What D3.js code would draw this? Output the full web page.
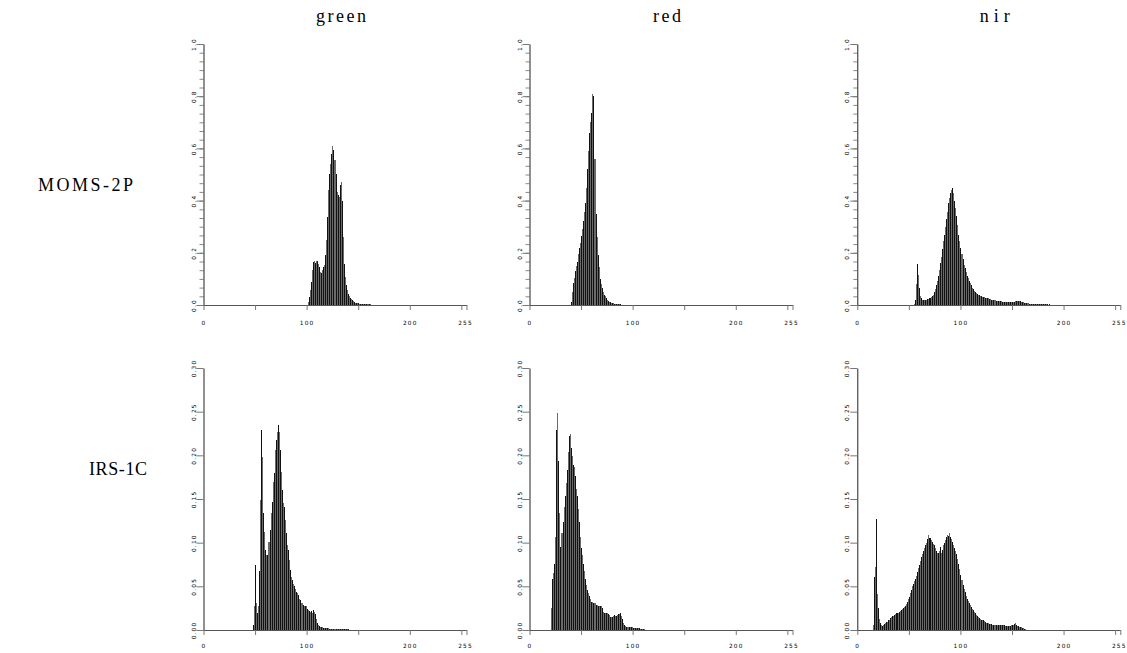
<!DOCTYPE html>
<html><head><meta charset="utf-8">
<script src="https://cdn.jsdelivr.net/npm/d3@7"></script>
<style>body{margin:0;background:#fff}svg{display:block}</style>
</head><body>
<svg id="c" width="1127" height="653"></svg>
<script>
// ---- categories / labels ----
const bandNames = ["green", "red", "nir"];
const sensorNames = ["MOMS-2P", "IRS-1C"];
const xTicks = [0, 50, 100, 150, 200, 250, 255];
const xTickLabels = ["0", "", "100", "", "200", "", "255"];
const topYTicks = [0, 0.2, 0.4, 0.6, 0.8, 1.0];
const topYTickLabels = ["0.0", "0.2", "0.4", "0.6", "0.8", "1.0"];
const topYMinorTicks = d3.range(0, 31).map(i => i / 30);
const bottomYTicks = [0, 0.05, 0.10, 0.15, 0.20, 0.25, 0.30];
const bottomYTickLabels = ["0.00", "0.05", "0.10", "0.15", "0.20", "0.25", "0.30"];

// ---- series: histogram frequencies, first grey level given by *Start ----
const momsGreenStart = 101;
const momsGreen = [0.011,0.03,0.056,0.088,0.133,0.165,0.167,0.162,0.167,0.168,
  0.158,0.145,0.126,0.122,0.133,0.146,0.152,0.19,0.248,0.337,
  0.44,0.503,0.54,0.58,0.608,0.593,0.554,0.503,0.433,0.42,
  0.414,0.458,0.471,0.40,0.26,0.158,0.107,0.075,0.056,0.043,
  0.034,0.027,0.022,0.018,0.014,0.011,0.009,0.008,0.007,0.006,
  0.005,0.005,0.004,0.004,0.003,0.003,0.003,0.002,0.002,0.002,0.002,0.001,0.001,0.001,0.001];

const momsRedStart = 40;
const momsRed = [0.013,0.05,0.085,0.105,0.13,0.15,0.165,0.195,0.22,0.236,
  0.265,0.29,0.32,0.355,0.39,0.45,0.52,0.59,0.66,0.70,
  0.735,0.81,0.80,0.56,0.35,0.26,0.19,0.145,0.10,0.08,
  0.064,0.051,0.04,0.033,0.027,0.021,0.016,0.013,0.011,0.009,
  0.007,0.006,0.005,0.004,0.004,0.003,0.003,0.002,0.002,0.001,0.001];

const momsNirStart = 55;
const momsNir = [0.005,0.02,0.08,0.157,0.115,0.065,0.035,0.025,0.021,0.02,
  0.02,0.02,0.021,0.022,0.024,0.026,0.029,0.033,0.04,0.05,
  0.06,0.075,0.092,0.112,0.134,0.16,0.185,0.215,0.245,0.27,
  0.3,0.33,0.357,0.39,0.41,0.428,0.44,0.447,0.43,0.40,
  0.37,0.34,0.305,0.27,0.245,0.22,0.195,0.175,0.155,0.14,
  0.125,0.112,0.102,0.092,0.083,0.075,0.067,0.06,0.055,0.049,
  0.045,0.042,0.039,0.037,0.035,0.033,0.032,0.031,0.029,0.028,
  0.027,0.026,0.025,0.024,0.022,0.021,0.02,0.019,0.018,0.017,
  0.016,0.016,0.015,0.014,0.014,0.013,0.012,0.012,0.012,0.011,
  0.011,0.011,0.012,0.012,0.012,0.013,0.013,0.013,0.014,0.014,
  0.014,0.015,0.014,0.014,0.013,0.012,0.011,0.009,0.008,0.007,
  0.006,0.005,0.005,0.004,0.004,0.004,0.003,0.003,0.003,0.003,
  0.003,0.003,0.002,0.002,0.002,0.002,0.002,0.002,0.002,0.002,
  0.001,0.002,0.001,0.001,0.001,0.001,0.001,0.001,0.001,0.001];

const irsGreenStart = 48;
const irsGreen = [0.006,0.028,0.0745,0.031,0.02,0.027,0.067,0.149,0.229,0.198,
  0.134,0.112,0.092,0.086,0.086,0.101,0.115,0.134,0.147,0.17,
  0.18,0.206,0.218,0.227,0.235,0.227,0.206,0.181,0.16,0.145,
  0.141,0.126,0.111,0.097,0.092,0.08,0.069,0.061,0.057,0.053,
  0.05,0.047,0.044,0.042,0.04,0.036,0.034,0.031,0.029,0.028,
  0.028,0.027,0.024,0.023,0.022,0.021,0.022,0.02,0.023,0.021,
  0.018,0.013,0.0085,0.0057,0.0046,0.004,0.0035,0.003,0.0028,0.0025,
  0.0023,0.002,0.002,0.0018,0.0016,0.0015,0.0014,0.0013,0.0012,0.0012,
  0.0011,0.001,0.001,0.0009,0.0009,0.0008,0.0008,0.0008,0.0007,0.0007,
  0.0006,0.0006,0.0006,0.0005,0.0005,0.0005,0.0004,0.0004];

const irsRedStart = 21;
const irsRed = [0.025,0.058,0.065,0.076,0.107,0.229,0.248,0.193,0.134,0.095,
  0.111,0.124,0.141,0.153,0.168,0.183,0.204,0.222,0.224,0.208,
  0.199,0.189,0.187,0.176,0.162,0.153,0.139,0.124,0.107,0.094,
  0.086,0.076,0.067,0.058,0.052,0.046,0.042,0.039,0.036,0.032,
  0.032,0.031,0.031,0.029,0.029,0.028,0.028,0.027,0.027,0.025,
  0.021,0.02,0.019,0.019,0.019,0.018,0.017,0.015,0.0145,0.015,
  0.016,0.017,0.0165,0.016,0.017,0.018,0.018,0.019,0.016,0.013,
  0.008,0.006,0.005,0.004,0.003,0.003,0.003,0.003,0.003,0.0025,
  0.0023,0.0022,0.002,0.002,0.002,0.0018,0.0016,0.0015,0.0014,0.0012,0.001];

const irsNirStart = 15;
const irsNir = [0.006,0.061,0.0725,0.127,0.041,0.025,0.013,0.008,0.006,0.005,
  0.006,0.007,0.008,0.009,0.0095,0.011,0.012,0.0135,0.015,0.016,
  0.0165,0.017,0.018,0.019,0.02,0.021,0.022,0.023,0.024,0.025,
  0.026,0.028,0.03,0.032,0.035,0.038,0.042,0.046,0.05,0.053,
  0.056,0.058,0.062,0.066,0.071,0.075,0.079,0.084,0.087,0.09,
  0.094,0.097,0.1,0.104,0.109,0.105,0.103,0.101,0.099,0.097,
  0.094,0.09,0.088,0.088,0.09,0.095,0.088,0.092,0.097,0.1,
  0.103,0.106,0.109,0.108,0.111,0.107,0.104,0.101,0.097,0.094,
  0.091,0.087,0.081,0.076,0.07,0.063,0.057,0.052,0.047,0.043,
  0.039,0.035,0.033,0.031,0.029,0.026,0.024,0.023,0.021,0.019,
  0.017,0.016,0.015,0.0135,0.013,0.012,0.0115,0.011,0.01,0.009,
  0.0084,0.008,0.0076,0.007,0.0066,0.0063,0.006,0.0059,0.0058,0.0057,
  0.0056,0.0055,0.0055,0.0054,0.0054,0.0053,0.0053,0.0052,0.0051,0.005,
  0.005,0.005,0.005,0.005,0.0052,0.0055,0.0062,0.007,0.0076,0.006,
  0.005,0.0045,0.004,0.0035,0.003,0.0025,0.002,0.0012,0.0006];

const panels = [
  [{start: momsGreenStart, values: momsGreen}, {start: momsRedStart, values: momsRed}, {start: momsNirStart, values: momsNir}],
  [{start: irsGreenStart, values: irsGreen}, {start: irsRedStart, values: irsRed}, {start: irsNirStart, values: irsNir}]
];

// ---- layout ----
const svg = d3.select("#c");
const colLeft = [203.5, 529.5, 857.3];
const plotW = 263;
const rows = [
  {top: 44, bottom: 305, max: 1.0, ticks: topYTicks, labels: topYTickLabels, minor: topYMinorTicks, labelY: 20},
  {top: 368, bottom: 630, max: 0.30, ticks: bottomYTicks, labels: bottomYTickLabels, minor: null, labelY: 18}
];
const tickFont = "'DejaVu Sans', sans-serif";
const barColors = ["#111111", "#6a6a6a"];

rows.forEach((row, r) => {
  colLeft.forEach((L, c) => {
    const x = d3.scaleLinear().domain([0, 255]).range([L, L + plotW]);
    const y = d3.scaleLinear().domain([0, row.max]).range([row.bottom, row.top]);
    const g = svg.append("g");
    const p = panels[r][c];
    const data = p.values.map((v, i) => ({bin: p.start + i, v}));
    const bw = x(1) - x(0);

    // x axis
    const xa = g.append("g").attr("transform", `translate(0,${y(0)})`)
      .call(d3.axisBottom(x).tickValues(xTicks).tickSize(5).tickSizeOuter(0)
        .tickFormat((d, i) => xTickLabels[i]));
    xa.select(".domain").attr("stroke", "#555");
    xa.selectAll(".tick line").attr("stroke", "#777");
    xa.selectAll(".tick text").attr("y", row.labelY).attr("dy", 0)
      .attr("dx", d => d === 255 ? -1.5 : 0)
      .attr("font-family", tickFont).attr("font-size", 5.8).attr("letter-spacing", "1.2px")
      .attr("fill", "#000");

    // y minor ticks
    if (row.minor) {
      const ma = g.append("g").attr("transform", `translate(${L},0)`)
        .call(d3.axisLeft(y).tickValues(row.minor).tickSize(4).tickFormat(""));
      ma.select(".domain").remove();
      ma.selectAll(".tick line").attr("stroke", "#888");
    }
    // y axis
    const ya = g.append("g").attr("transform", `translate(${L},0)`)
      .call(d3.axisLeft(y).tickValues(row.ticks).tickSize(7).tickSizeOuter(0)
        .tickFormat((d, i) => row.labels[i]));
    ya.select(".domain").attr("stroke", "#222");
    ya.selectAll(".tick line").attr("stroke", "#777");
    ya.selectAll(".tick text").attr("x", 0).attr("dy", 0)
      .attr("text-anchor", "middle").attr("transform", "translate(-8,0) rotate(-90)")
      .attr("font-family", tickFont).attr("font-size", 5.8).attr("letter-spacing", "1.2px")
      .attr("fill", "#000");

    // bars
    g.append("g").attr("shape-rendering", "crispEdges")
      .selectAll("rect").data(data).join("rect")
      .attr("x", d => x(d.bin))
      .attr("width", bw)
      .attr("y", d => y(d.v))
      .attr("height", d => y(0) - y(d.v))
      .attr("fill", d => barColors[d.bin % 2]);
  });
});

// column titles
const titleFont = "'Liberation Serif', 'Times New Roman', serif";
const titleWidths = [50, 28, 30];
svg.append("g").selectAll("text").data(bandNames).join("text")
  .attr("x", (d, i) => colLeft[i] + plotW / 2 + 6)
  .attr("y", 22)
  .attr("text-anchor", "middle")
  .attr("font-family", titleFont).attr("font-size", 18)
  .attr("textLength", (d, i) => titleWidths[i]).attr("lengthAdjust", "spacing")
  .text(d => d);

// row labels
const rowLabelPos = [[38, 191], [89, 475]];
const rowLabelWidths = [95, 58];
svg.append("g").selectAll("text").data(sensorNames).join("text")
  .attr("x", (d, i) => rowLabelPos[i][0])
  .attr("y", (d, i) => rowLabelPos[i][1])
  .attr("font-family", titleFont).attr("font-size", 18)
  .attr("textLength", (d, i) => rowLabelWidths[i]).attr("lengthAdjust", "spacing")
  .text(d => d);
</script>
</body></html>
